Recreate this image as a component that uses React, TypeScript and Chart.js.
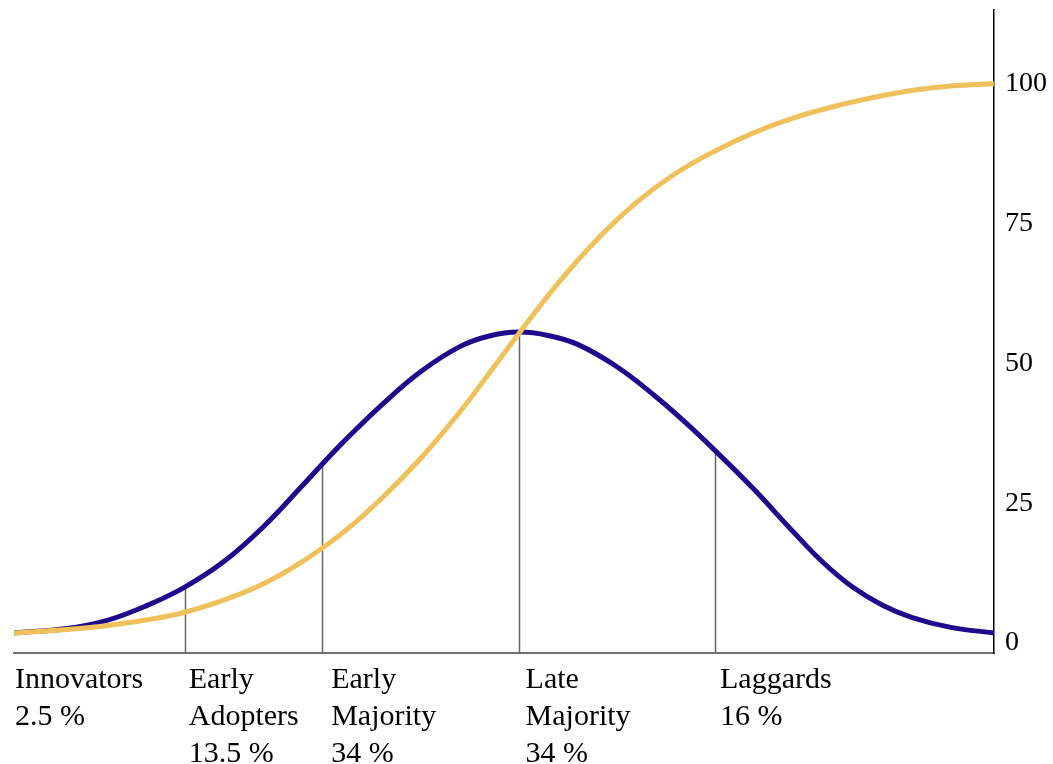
import React, { useEffect, useRef } from 'react';
import { Chart, registerables } from 'chart.js';

Chart.register(...registerables);

// x values are in standard-deviation units around the mean adoption time
const blueX = [-2.57, -2.3, -2.1, -1.9, -1.7, -1.5, -1.3, -1.1, -1.0, -0.9, -0.7, -0.5, -0.3, -0.15, 0, 0.15, 0.3, 0.5, 0.7, 0.85, 1.0, 1.2, 1.4, 1.55, 1.7, 1.85, 2.0, 2.2, 2.42];
const blueY = [1.8, 2.6, 4.0, 6.6, 10.0, 14.6, 20.8, 28.2, 32.0, 35.7, 42.5, 48.5, 53.0, 54.9, 55.6, 55.0, 53.4, 49.4, 44.0, 39.4, 34.4, 27.4, 19.8, 14.4, 10.0, 6.8, 4.6, 2.8, 1.8];

const yellowX = [-2.57, -2.3, -2.1, -1.9, -1.7, -1.5, -1.3, -1.1, -0.9, -0.7, -0.5, -0.3, -0.1, 0, 0.2, 0.4, 0.6, 0.8, 1.0, 1.2, 1.4, 1.6, 1.8, 2.0, 2.2, 2.42];
const yellowY = [1.8, 2.4, 3.1, 4.1, 5.5, 7.7, 10.6, 14.6, 19.6, 25.8, 33.0, 41.3, 50.6, 55.3, 64.3, 72.2, 78.8, 84.0, 88.0, 91.3, 93.9, 95.9, 97.5, 98.8, 99.6, 100];

const boundaries = [-1.7, -1.0, 0, 1.0];
const labelX = [-2.565, -1.68, -0.955, 0.035, 1.025];
const labelLines = [
  ['Innovators', '2.5 %'],
  ['Early', 'Adopters', '13.5 %'],
  ['Early', 'Majority', '34 %'],
  ['Late', 'Majority', '34 %'],
  ['Laggards', '16 %'],
];
const yTicks = [0, 25, 50, 75, 100];

const X_MIN = -2.57;
const X_MAX = 2.42;
const Y_MIN = -1.79;
const Y_MAX = 113.2;

const FONT = '"Liberation Serif", "Times New Roman", serif';

const overlay = {
  id: 'overlay',
  beforeDatasetsDraw(chart: any) {
    const ctx = chart.ctx;
    const xs = chart.scales.x;
    const ys = chart.scales.y;
    ctx.save();
    ctx.strokeStyle = '#666';
    ctx.lineWidth = 1.5;
    boundaries.forEach((b) => {
      const i = blueX.indexOf(b);
      const v = blueY[i];
      const px = Math.round(xs.getPixelForValue(b)) + 0.5;
      ctx.beginPath();
      ctx.moveTo(px, ys.getPixelForValue(Y_MIN));
      ctx.lineTo(px, ys.getPixelForValue(v));
      ctx.stroke();
    });
    ctx.restore();
  },
  afterDraw(chart: any) {
    const ctx = chart.ctx;
    const xs = chart.scales.x;
    const bottom = chart.chartArea.bottom;
    ctx.save();
    ctx.fillStyle = '#000';
    ctx.font = `30px ${FONT}`;
    ctx.textAlign = 'left';
    ctx.textBaseline = 'alphabetic';
    labelLines.forEach((lines, i) => {
      const px = xs.getPixelForValue(labelX[i]);
      lines.forEach((t, j) => {
        ctx.fillText(t, px, bottom + 35 + j * 37);
      });
    });
    ctx.restore();
  },
};

export default function App() {
  const ref = useRef<HTMLCanvasElement | null>(null);

  useEffect(() => {
    if (!ref.current) return;
    const chart = new Chart(ref.current, {
      type: 'line',
      data: {
        datasets: [
          {
            label: 'Market share',
            data: yellowX.map((x, i) => ({ x, y: yellowY[i] })),
            borderColor: '#f0c05a',
            borderWidth: 5,
            pointRadius: 0,
            fill: false,
            tension: 0.4,
            order: 0,
          },
          {
            label: 'Adopters',
            data: blueX.map((x, i) => ({ x, y: blueY[i] })),
            borderColor: '#1e0a8c',
            borderWidth: 5,
            pointRadius: 0,
            fill: false,
            tension: 0.4,
            order: 1,
          },
        ],
      },
      options: {
        responsive: false,
        maintainAspectRatio: false,
        animation: false,
        layout: { padding: { left: 14, top: 10, right: 0, bottom: 0 } },
        plugins: { legend: { display: false }, tooltip: { enabled: false } },
        scales: {
          x: {
            type: 'linear',
            position: 'bottom',
            min: X_MIN,
            max: X_MAX,
            grid: { display: false, drawTicks: false },
            ticks: { display: false },
            border: { display: true, color: '#707070', width: 2 },
            afterFit(s: any) {
              s.height = 111;
              s.paddingLeft = 0;
              s.paddingRight = 0;
            },
          },
          y: {
            type: 'linear',
            position: 'right',
            min: Y_MIN,
            max: Y_MAX,
            grid: { display: false, drawTicks: false },
            border: { display: true, color: '#000', width: 1.5 },
            ticks: {
              color: '#000',
              padding: 11,
              font: { family: FONT, size: 28 },
            },
            afterBuildTicks(s: any) {
              s.ticks = yTicks.map((v) => ({ value: v }));
            },
            afterFit(s: any) {
              s.width = 59;
              s.paddingTop = 0;
              s.paddingBottom = 0;
            },
          },
        },
      } as any,
      plugins: [overlay],
    });
    return () => chart.destroy();
  }, []);

  return (
    <div style={{ position: 'fixed', left: 0, top: 0, width: 1053, height: 764, background: '#fff' }}>
      <canvas ref={ref} width={1053} height={764} style={{ display: 'block', width: 1053, height: 764 }} />
    </div>
  );
}
